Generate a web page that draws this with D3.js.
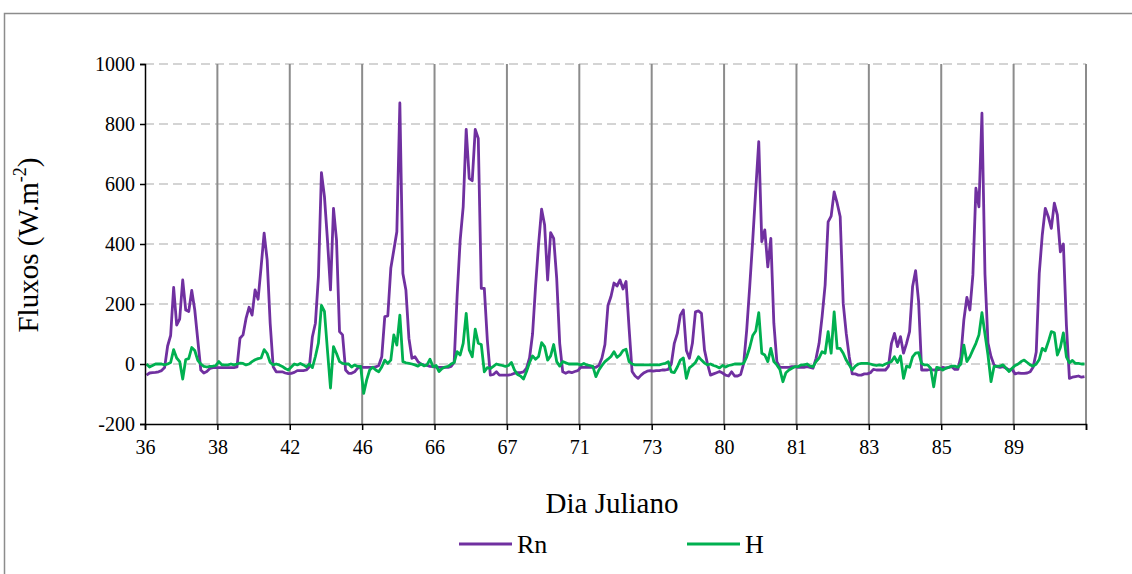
<!DOCTYPE html>
<html>
<head>
<meta charset="utf-8">
<script src="https://cdn.jsdelivr.net/npm/d3@7"></script>
<style>
  html, body { margin: 0; padding: 0; background: #fff; }
  svg { display: block; }
</style>
</head>
<body>
<svg id="chart" width="1132" height="574"></svg>
<script>
// Categories (Julian days), 24 hourly values each
const days = ["36","38","42","46","66","67","71","73","80","81","83","85","89"];
const yTicks = [-200, 0, 200, 400, 600, 800, 1000];
const seriesNames = ["Rn", "H"];

const rn = [
  -37,-30,-29,-28,-26,-22,-12,60,95,255,130,150,280,180,175,245,180,80,-20,-30,-25,-15,-12,-12,
  -12,-12,-12,-12,-12,-12,-10,86,97,152,189,163,247,216,324,436,347,136,-9,-26,-26,-26,-30,-32,
  -31,-28,-22,-22,-22,-20,-9,91,136,291,638,558,413,247,519,413,108,97,-20,-31,-31,-26,-14,-9,
  -11,-11,-11,-11,-10,-5,24,158,160,319,380,441,870,302,247,86,19,24,8,0,-3,-5,-8,-9,
  -10,-11,-11,-11,-11,-8,5,230,413,524,782,619,611,782,752,252,252,80,-37,-35,-26,-37,-37,-37,
  -37,-35,-31,-29,-29,-26,-14,20,100,260,400,516,463,280,438,419,286,69,-26,-31,-26,-29,-25,-22,
  -11,-11,-11,-11,-11,-11,-5,20,65,195,225,270,260,280,250,275,120,-25,-40,-48,-37,-29,-24,-22,
  -24,-22,-22,-20,-20,-18,0,69,102,163,180,45,19,69,174,177,169,47,0,-37,-33,-29,-25,-30,
  -37,-40,-26,-40,-40,-35,2,113,258,413,580,741,408,447,324,419,136,8,-11,-11,-11,-11,-9,-9,
  -11,-11,-11,-9,-11,-14,19,69,158,263,474,493,574,536,491,202,102,24,-33,-33,-37,-37,-33,-33,
  -29,-18,-20,-20,-20,-20,-8,69,102,58,91,36,69,108,258,311,208,-20,-20,-20,-18,-20,-20,-18,
  -11,-14,-11,-9,-18,-18,24,147,222,180,297,586,524,836,300,70,25,-3,-9,-11,-9,-14,-20,-18,
  -33,-30,-31,-31,-30,-26,-10,40,302,430,519,491,452,536,497,374,400,130,-48,-44,-42,-40,-44,-42
];

const hFlux = [
  0,-10,-5,0,0,0,-3,0,5,48,20,8,-50,15,18,55,45,12,0,-8,-10,-8,-7,-5,
  8,-3,-3,-3,0,-3,0,3,2,-3,0,8,14,18,20,48,35,5,-3,0,-3,-8,-15,-20,
  -10,0,-3,2,-3,-9,0,-12,25,70,195,175,45,-80,58,35,8,2,0,0,-10,-3,-8,-8,
  -98,-53,-20,-11,-20,-26,-10,13,2,13,97,63,163,8,4,2,0,-3,-7,0,-6,-3,16,-9,
  -5,-25,-15,-10,-8,0,5,41,30,69,169,47,24,116,69,65,-26,-12,-15,-8,0,-3,-5,-8,
  -5,5,-20,-35,-40,-50,-25,5,27,16,25,71,58,13,27,65,8,-7,8,4,0,0,0,0,
  -3,2,-3,-5,-8,-42,-20,-5,8,16,25,41,22,30,45,49,8,0,-3,-3,-3,-3,-3,-3,
  -3,-3,-3,0,2,8,-26,-29,-10,13,20,-48,-13,-5,5,24,13,3,-3,0,-5,-8,-13,-5,
  -10,-5,-3,0,0,0,2,24,55,95,110,171,36,30,8,52,8,-3,-18,-59,-29,-20,-14,-9,
  -9,-3,-3,0,-7,-9,8,20,41,36,108,36,174,52,52,36,13,-3,-20,-7,0,2,2,2,
  0,-3,-5,-3,-5,0,4,8,24,5,27,-48,-7,-11,24,36,38,2,-3,-3,-14,-76,-11,-14,
  -20,-14,-11,-7,-7,-11,0,63,8,24,47,69,97,171,100,30,-59,-9,-7,-7,-3,-14,-25,-14,
  -5,0,8,13,5,-3,-7,0,15,52,44,74,108,104,30,55,104,24,4,12,2,2,0,0
];

const colors = { Rn: "#7030A0", H: "#00B050" };
const FONT = '"Liberation Serif"';

const svg = d3.select("#chart");
const plotL = 145, plotR = 1086, plotT = 64, plotB = 424;
const nPts = days.length * 24;

const x = d3.scaleLinear().domain([0, nPts]).range([plotL, plotR]);
const y = d3.scaleLinear().domain([-200, 1000]).range([plotB, plotT]);

// outer frame
svg.append("rect")
  .attr("x", 4.5).attr("y", 13.5)
  .attr("width", 1140).attr("height", 580)
  .attr("fill", "none").attr("stroke", "#8c8c8c").attr("stroke-width", 1.5);

// horizontal dashed gridlines
svg.append("g").selectAll("line")
  .data(yTicks.filter(v => v > -200))
  .join("line")
  .attr("x1", plotL).attr("x2", plotR)
  .attr("y1", d => y(d)).attr("y2", d => y(d))
  .attr("stroke", "#d4d4d4").attr("stroke-width", 2)
  .attr("stroke-dasharray", "9,5");

// vertical gridlines at day boundaries
const dayTicks = d3.range(0, nPts + 1, 24);
svg.append("g").selectAll("line")
  .data(dayTicks.slice(1))
  .join("line")
  .attr("x1", d => x(d)).attr("x2", d => x(d))
  .attr("y1", plotT).attr("y2", plotB)
  .attr("stroke", "#8c8c8c").attr("stroke-width", 2);

// series lines
const line = d3.line()
  .x((d, i) => x(i + 0.5))
  .y(d => y(d));

[["Rn", rn], ["H", hFlux]].forEach(([name, vals]) => {
  svg.append("path")
    .datum(vals)
    .attr("fill", "none")
    .attr("stroke", colors[name])
    .attr("stroke-width", 2.8)
    .attr("stroke-linejoin", "round")
    .attr("d", line);
});

// y axis
const yAxis = svg.append("g")
  .attr("transform", `translate(${plotL},0)`)
  .call(d3.axisLeft(y).tickValues(yTicks).tickSize(5).tickPadding(5).tickFormat(d => String(d)));
yAxis.attr("font-family", null).attr("font-size", null);
yAxis.select(".domain").attr("stroke", "#000").attr("stroke-width", 1.5);
yAxis.selectAll(".tick line").attr("stroke", "#000").attr("stroke-width", 1.5);
yAxis.selectAll("text")
  .style("font-family", FONT)
  .style("font-size", "20px")
  .attr("fill", "#000");

// x axis
const xAxis = svg.append("g")
  .attr("transform", `translate(0,${plotB})`)
  .call(d3.axisBottom(x).tickValues(dayTicks).tickSize(6).tickPadding(10)
        .tickFormat(d => days[d / 24] || ""));
xAxis.attr("font-family", null).attr("font-size", null);
xAxis.select(".domain").attr("stroke", "#000").attr("stroke-width", 1.5);
xAxis.selectAll(".tick line").attr("stroke", "#000").attr("stroke-width", 1.5);
xAxis.selectAll("text")
  .style("font-family", FONT)
  .style("font-size", "20px")
  .attr("fill", "#000");

// axis titles
const yTitle = svg.append("text")
  .attr("transform", "translate(38,245) rotate(-90)")
  .attr("text-anchor", "middle")
  .style("font-family", FONT)
  .style("font-size", "29px")
  .attr("fill", "#000");
yTitle.append("tspan").text("Fluxos (W.m");
yTitle.append("tspan").text("-2").style("font-size", "18px").attr("dy", -12);
yTitle.append("tspan").text(")").attr("dy", 12);

svg.append("text")
  .attr("x", 612).attr("y", 513)
  .attr("text-anchor", "middle")
  .style("font-family", FONT)
  .style("font-size", "29px")
  .attr("fill", "#000")
  .text("Dia Juliano");

// legend
const legendItems = [
  { name: "Rn", x1: 459, x2: 512 },
  { name: "H", x1: 687, x2: 740 }
];
const lg = svg.append("g");
legendItems.forEach(it => {
  lg.append("line")
    .attr("x1", it.x1).attr("x2", it.x2)
    .attr("y1", 544).attr("y2", 544)
    .attr("stroke", colors[it.name]).attr("stroke-width", 3);
  lg.append("text")
    .attr("x", it.x2 + 5).attr("y", 553)
    .style("font-family", FONT)
    .style("font-size", "26px")
    .attr("fill", "#000")
    .text(it.name);
});
</script>
</body>
</html>
